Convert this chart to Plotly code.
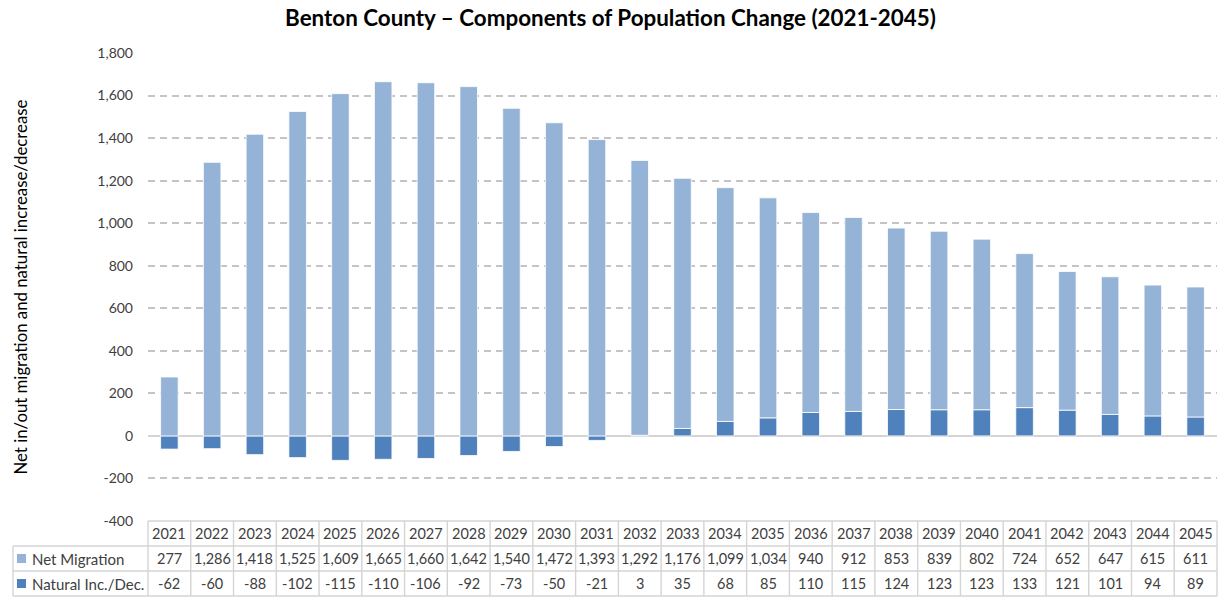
import plotly.graph_objects as go

years = list(range(2021, 2046))
net_migration = [277, 1286, 1418, 1525, 1609, 1665, 1660, 1642, 1540, 1472, 1393, 1292,
                 1176, 1099, 1034, 940, 912, 853, 839, 802, 724, 652, 647, 615, 611]
natural_change = [-62, -60, -88, -102, -115, -110, -106, -92, -73, -50, -21, 3,
                  35, 68, 85, 110, 115, 124, 123, 123, 133, 121, 101, 94, 89]
series_names = ["Net Migration", "Natural Inc./Dec."]
y_ticks = list(range(-400, 2000, 200))

c_mig = "#95B3D7"
c_nat = "#4F81BD"
grid_c = "#D4D4D4"
txt_c = "#404040"
FONT = "Lato"

W, H = 1221, 599
L, R, T, B = 148, 4, 53, 78
ph = H - T - B
pw = W - L - R
row_h = 25 / ph  # table row height in paper units
n = len(years)


def col_edge(i):
    # paper x of the left edge of table column i
    return i / n


fig = go.Figure()
# natural change first (at the base), migration stacked on top
fig.add_trace(go.Bar(x=years, y=natural_change, name=series_names[1],
                     marker=dict(color=c_nat, line=dict(color="white", width=0.8))))
fig.add_trace(go.Bar(x=years, y=net_migration, name=series_names[0],
                     marker=dict(color=c_mig, line=dict(color="white", width=0.8))))

shapes = []
annos = []
ln = dict(color=grid_c, width=1.4)

# data table borders
tb = -3 * row_h
leg_x0 = (13 - L) / pw
shapes.append(dict(type="line", xref="paper", yref="paper", x0=0, x1=1, y0=0, y1=0, line=ln))
for k in (1, 2, 3):
    shapes.append(dict(type="line", xref="paper", yref="paper", x0=leg_x0, x1=1,
                       y0=-k * row_h, y1=-k * row_h, line=ln))
for i in range(n + 1):
    shapes.append(dict(type="line", xref="paper", yref="paper", x0=col_edge(i), x1=col_edge(i),
                       y0=0, y1=tb, line=ln))
shapes.append(dict(type="line", xref="paper", yref="paper", x0=leg_x0, x1=leg_x0,
                   y0=-row_h, y1=tb, line=ln))

# table text
tf = dict(size=14.5, color=txt_c)
for i, yr in enumerate(years):
    annos.append(dict(x=yr, y=-0.5 * row_h, xref="x", yref="paper", text=str(yr),
                      yanchor="middle", showarrow=False, font=tf))
    annos.append(dict(x=yr, y=-1.5 * row_h, xref="x", yref="paper", text=f"{net_migration[i]:,}",
                      yanchor="middle", showarrow=False, font=tf))
    annos.append(dict(x=yr, y=-2.5 * row_h, xref="x", yref="paper", text=f"{natural_change[i]:,}",
                      yanchor="middle", showarrow=False, font=tf))

# legend keys in the table
sq = 9
for k, (nm, col) in enumerate([(series_names[0], c_mig), (series_names[1], c_nat)]):
    yc = -(1.5 + k) * row_h
    shapes.append(dict(type="rect", xref="paper", yref="paper",
                       x0=(17 - L) / pw, x1=(17 + sq - L) / pw,
                       y0=yc - sq / 2 / ph, y1=yc + sq / 2 / ph,
                       fillcolor=col, line=dict(width=0)))
    annos.append(dict(x=(30 - L) / pw, y=yc, xref="paper", yref="paper", text=nm,
                      xanchor="left", yanchor="middle", showarrow=False,
                      font=dict(size=15, color=txt_c)))

# y axis title
annos.append(dict(x=(7 - L) / pw, y=0.5, xref="paper", yref="paper", textangle=-90,
                  text="Net in/out migration and natural increase/decrease",
                  showarrow=False, font=dict(size=16.8, color="black")))

fig.update_layout(
    width=W, height=H,
    barmode="relative",
    bargap=0.59,
    showlegend=False,
    plot_bgcolor="white", paper_bgcolor="white",
    margin=dict(l=L, r=R, t=T, b=B),
    font=dict(family=FONT, color=txt_c),
    title=dict(text="<b>Benton County – Components of Population Change (2021-2045)</b>",
               x=0.5, xref="container", xanchor="center", y=1 - 18 / H, yanchor="middle",
               font=dict(size=22.4, color="black", family=FONT)),
    shapes=shapes,
    annotations=annos,
)
fig.update_xaxes(range=[years[0] - 0.5, years[-1] + 0.5], showticklabels=False,
                 showgrid=False, zeroline=False, showline=False, ticks="")
fig.update_yaxes(range=[-400, 1800], tickvals=y_ticks,
                 ticktext=[f"{v:,}" for v in y_ticks],
                 tickfont=dict(size=14, color=txt_c), ticks="", ticklabelstandoff=14,
                 showgrid=True, gridcolor="#C4C4C4", griddash="7px,5px", gridwidth=1.6,
                 zeroline=True, zerolinecolor=grid_c, zerolinewidth=1.6,
                 automargin=False)

fig.write_html("out.html", config={"displayModeBar": False},
               post_script="document.body.style.margin='0';")
